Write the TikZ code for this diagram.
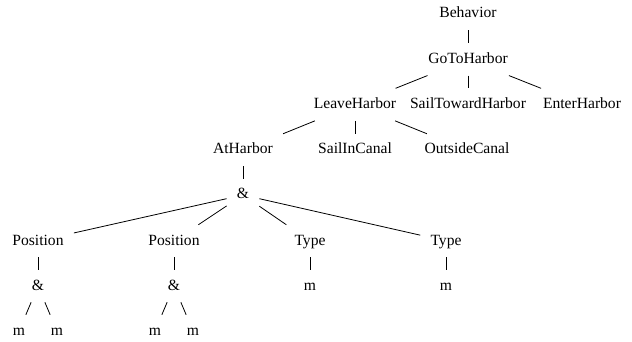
\documentclass[tikz,border=0pt]{standalone}
\usepackage{fontspec}
\setmainfont{Liberation Serif}
\begin{document}
\begin{tikzpicture}[x=0.75pt,y=-0.75pt,
  tn/.style={inner xsep=7.5pt,inner ysep=6.5pt,text height=8.5pt,text depth=2.5pt,font=\fontsize{11.7}{14}\selectfont},
  br/.style={line width=0.6pt}]
\useasboundingbox (0,0) rectangle (632,342);
\node[tn] (beh) at (468,14) {Behavior};
\node[tn] (goto) at (468,59.3) {GoToHarbor};
\node[tn] (leave) at (355,104.6) {LeaveHarbor};
\node[tn] (sail) at (468,104.6) {SailTowardHarbor};
\node[tn] (enter) at (582,104.6) {EnterHarbor};
\node[tn] (at) at (243,150) {AtHarbor};
\node[tn] (canal) at (355,150) {SailInCanal};
\node[tn] (out) at (467,150) {OutsideCanal};
\node[tn] (and) at (243,195) {\&};
\node[tn] (pos1) at (38,241) {Position};
\node[tn] (pos2) at (174,241) {Position};
\node[tn] (typ1) at (310,241) {Type};
\node[tn] (typ2) at (446,241) {Type};
\node[tn] (and1) at (38,286) {\&};
\node[tn] (and2) at (174,286) {\&};
\node[tn] (tm1) at (310,286) {m};
\node[tn] (tm2) at (446,286) {m};
\node[tn] (m1) at (19,331) {m};
\node[tn] (m2) at (57,331) {m};
\node[tn] (m3) at (155,331) {m};
\node[tn] (m4) at (193,331) {m};
\draw[br] (beh) -- (goto);
\draw[br] (goto) -- (leave);
\draw[br] (goto) -- (sail);
\draw[br] (goto) -- (enter);
\draw[br] (leave) -- (at);
\draw[br] (leave) -- (canal);
\draw[br] (leave) -- (out);
\draw[br] (at) -- (and);
\draw[br] (and) -- (pos1);
\draw[br] (and) -- (pos2);
\draw[br] (and) -- (typ1);
\draw[br] (and) -- (typ2);
\draw[br] (pos1) -- (and1);
\draw[br] (pos2) -- (and2);
\draw[br] (typ1) -- (tm1);
\draw[br] (typ2) -- (tm2);
\draw[br] (and1) -- (m1);
\draw[br] (and1) -- (m2);
\draw[br] (and2) -- (m3);
\draw[br] (and2) -- (m4);
\end{tikzpicture}
\end{document}
